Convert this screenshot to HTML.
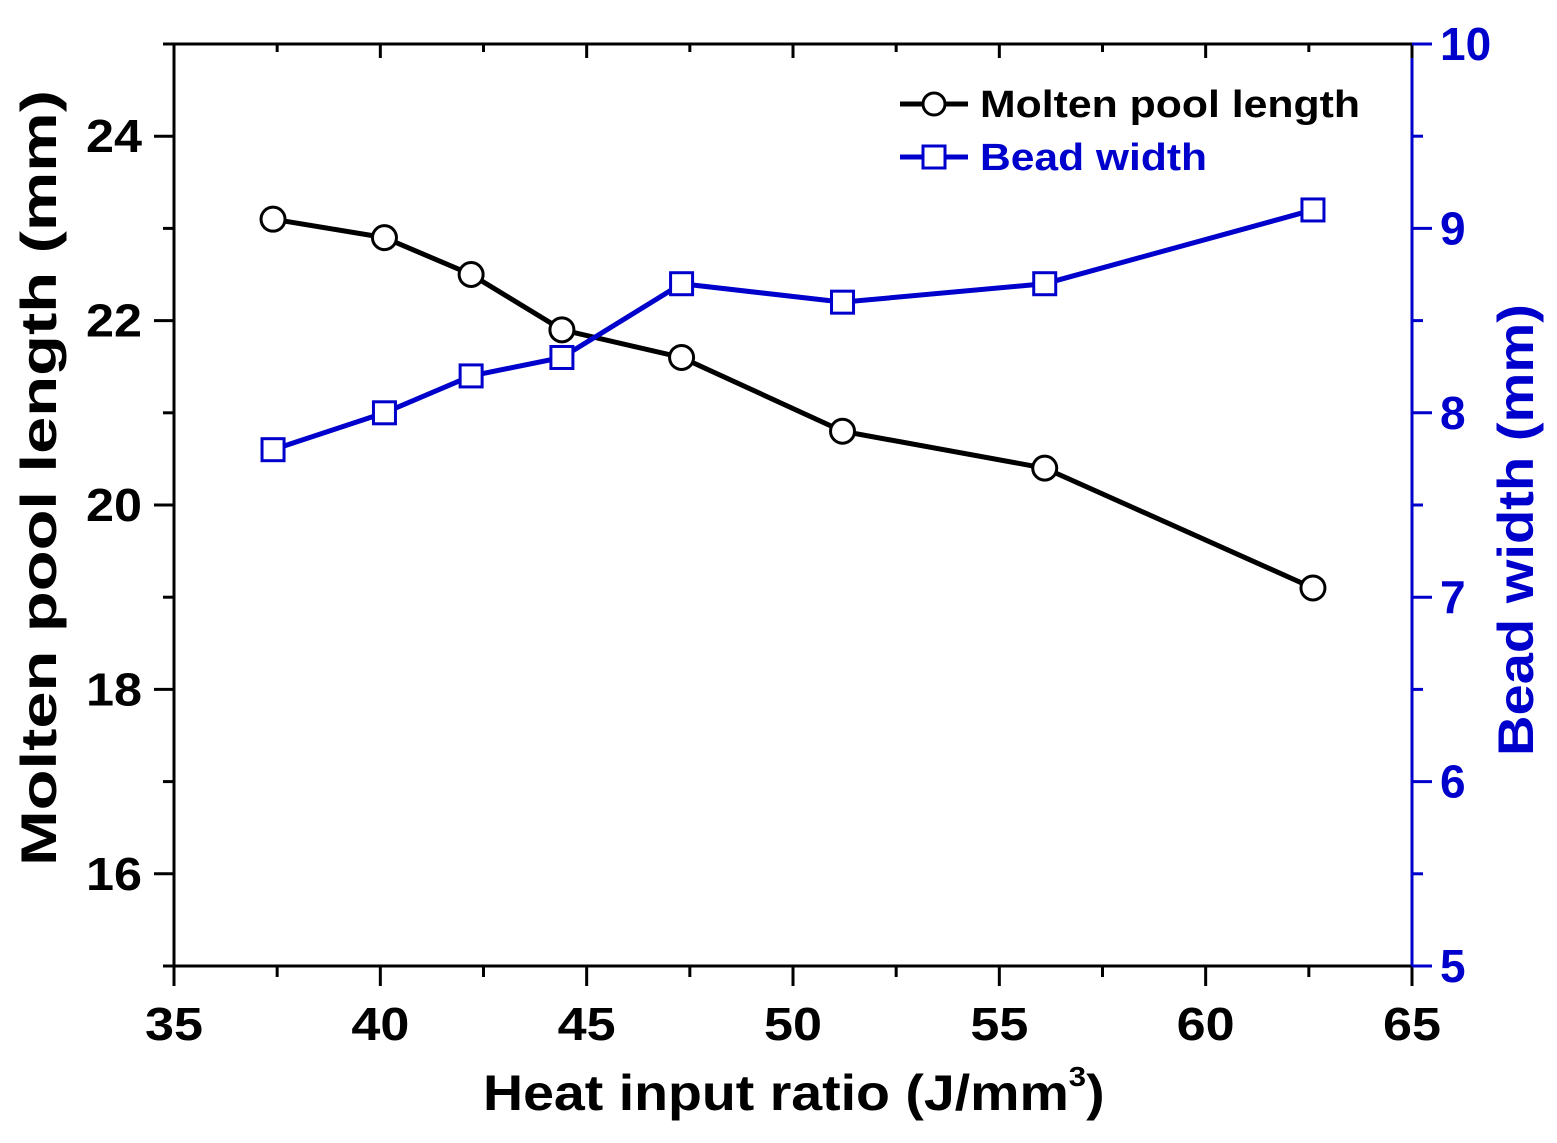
<!DOCTYPE html>
<html><head><meta charset="utf-8"><style>
body{margin:0;background:#fff}
svg text{font-family:"Liberation Sans",Arial,sans-serif;font-weight:bold}
</style></head><body>
<svg id="chart" width="1557" height="1138" xmlns="http://www.w3.org/2000/svg">
<g id="axes"></g>
<g id="series"></g>
<text transform="translate(483,1110) scale(1.11,1)" x="0" y="0" font-size="50">Heat input ratio (J/mm<tspan font-size="28" dy="-24">3</tspan><tspan dy="24">)</tspan></text>
<text transform="translate(56,866) rotate(-90)" font-size="50" textLength="776" lengthAdjust="spacingAndGlyphs">Molten pool length (mm)</text>
<text transform="translate(1533,756) rotate(-90)" font-size="50" textLength="452" lengthAdjust="spacingAndGlyphs" fill="#0000cc">Bead width (mm)</text>
<g>
<g>
<line x1="900" y1="104" x2="968" y2="104" stroke="#000" stroke-width="5"/>
<circle cx="934" cy="104" r="11" fill="#fff" stroke="#000" stroke-width="3"/>
<text x="980" y="117" font-size="38" textLength="380" lengthAdjust="spacingAndGlyphs">Molten pool length</text></g>
<g>
<line x1="900" y1="157" x2="968" y2="157" stroke="#0000cc" stroke-width="5"/>
<rect x="923" y="146" width="22" height="22" fill="#fff" stroke="#0000cc" stroke-width="3"/>
<text x="980" y="170" font-size="38" textLength="227" lengthAdjust="spacingAndGlyphs" fill="#0000cc">Bead width</text></g>
</g>
</svg>
<script>
const xValues=[37.4,40.1,42.2,44.4,47.3,51.2,56.1,62.6];
const lengthValues=[23.1,22.9,22.5,21.9,21.6,20.8,20.4,19.1];
const widthValues=[7.8,8.0,8.2,8.3,8.7,8.6,8.7,9.1];
const xTicks=[35,40,45,50,55,60,65];
const leftTicks=[16,18,20,22,24];
const rightTicks=[5,6,7,8,9,10];
const NS="http://www.w3.org/2000/svg";
const L=174,R=1412,T=44,B=966;
const xs=v=>L+(v-35)/30*(R-L);
const yl=v=>B-(v-15)/10*(B-T);
const yr=v=>B-(v-5)/5*(B-T);
function mk(tag,attrs,parent){const e=document.createElementNS(NS,tag);for(const k in attrs)e.setAttribute(k,attrs[k]);parent.appendChild(e);return e;}
const ax=document.getElementById('axes');
const ser=document.getElementById('series');
let e;
e=mk('line',{x1:L,y1:B,x2:R,y2:B,stroke:'#000','stroke-width':3},ax);


e=mk('line',{x1:L,y1:T,x2:R,y2:T,stroke:'#000','stroke-width':3},ax);


e=mk('line',{x1:L,y1:T,x2:L,y2:B,stroke:'#000','stroke-width':3},ax);


e=mk('line',{x1:R,y1:T,x2:R,y2:B,stroke:'#0000cc','stroke-width':3},ax);


for(let v=35;v<=65;v+=2.5){const maj=v%5===0;
mk('line',{x1:xs(v),y1:B,x2:xs(v),y2:B+(maj?20:11),stroke:'#000','stroke-width':3},ax);
mk('line',{x1:xs(v),y1:T,x2:xs(v),y2:T+(maj?14:8),stroke:'#000','stroke-width':3},ax);}
xTicks.forEach(v=>{const t=mk('text',{x:xs(v),y:1040,'font-size':46,'text-anchor':'middle',textLength:58,lengthAdjust:'spacingAndGlyphs'},ax);t.textContent=v;

});
for(let v=15;v<=25;v+=1){const maj=v%2===0;
mk('line',{x1:L,y1:yl(v),x2:L-(maj?20:11),y2:yl(v),stroke:'#000','stroke-width':3},ax);}
leftTicks.forEach(v=>{const t=mk('text',{x:142,y:yl(v)+16,'font-size':46,'text-anchor':'end',textLength:56,lengthAdjust:'spacingAndGlyphs'},ax);t.textContent=v;

});
for(let v=5;v<=10;v+=0.5){const maj=v%1===0;
mk('line',{x1:R,y1:yr(v),x2:R+(maj?20:11),y2:yr(v),stroke:'#0000cc','stroke-width':3},ax);}
rightTicks.forEach(v=>{const t=mk('text',{x:1440,y:yr(v)+16,'font-size':46,fill:'#0000cc'},ax);t.textContent=v;

});
e=mk('polyline',{points:xValues.map((x,i)=>xs(x)+','+yl(lengthValues[i])).join(' '),fill:'none',stroke:'#000','stroke-width':5},ser);


e=mk('polyline',{points:xValues.map((x,i)=>xs(x)+','+yr(widthValues[i])).join(' '),fill:'none',stroke:'#0000cc','stroke-width':5},ser);


xValues.forEach((x,i)=>{
const c=mk('circle',{cx:xs(x),cy:yl(lengthValues[i]),r:12,fill:'#fff',stroke:'#000','stroke-width':3},ser);


const r=mk('rect',{x:xs(x)-11,y:yr(widthValues[i])-11,width:22,height:22,fill:'#fff',stroke:'#0000cc','stroke-width':3},ser);

});
</script>
</body></html>
